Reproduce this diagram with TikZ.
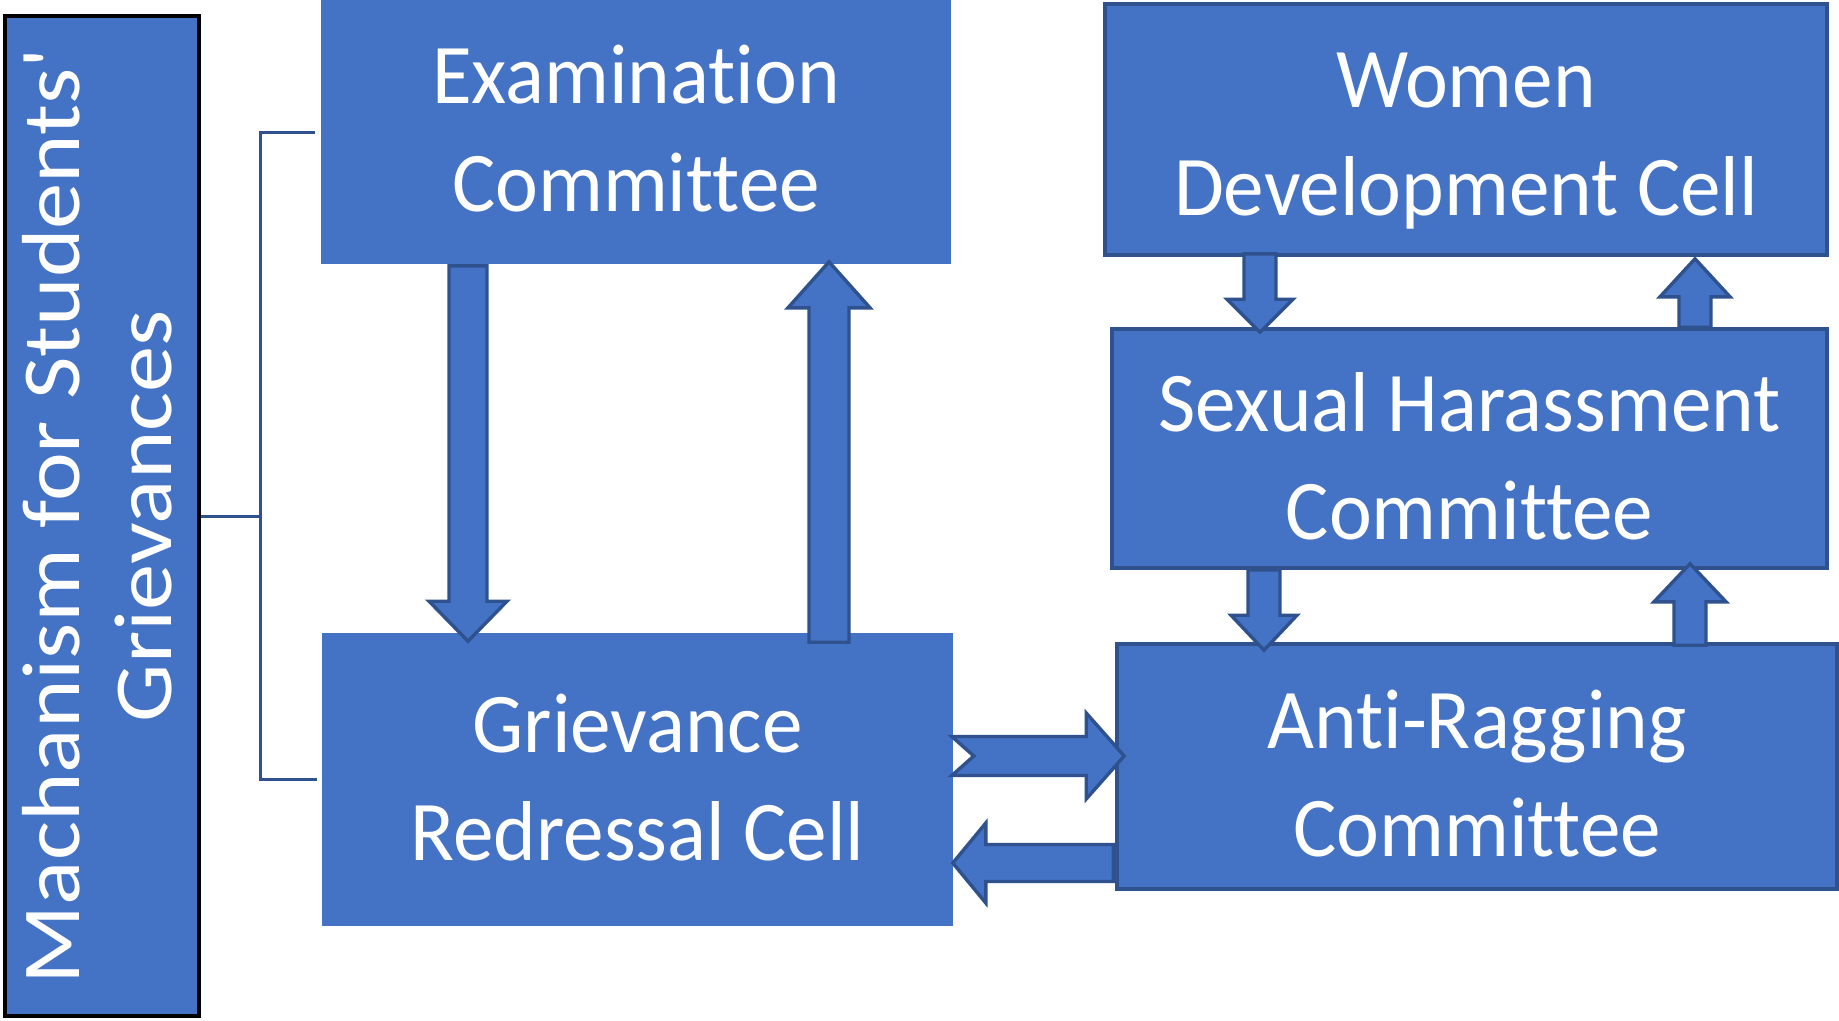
\documentclass[tikz,border=0pt]{standalone}
\usepackage{fontspec}
\setmainfont{Carlito}[Ligatures={NoCommon}]
\usetikzlibrary{calc}
\definecolor{boxblue}{HTML}{4472C4}
\definecolor{edgeblue}{HTML}{2F528F}

\makeatletter
% #1 start, #2 end (tip), #3 half shaft, #4 half head, #5 head length, #6 notch depth
\newcommand\blockarrow[6]{%
  \path #1 coordinate (ba-s);
  \path #2 coordinate (ba-e);
  \pgfpointdiff{\pgfpointanchor{ba-s}{center}}{\pgfpointanchor{ba-e}{center}}%
  \pgfmathveclen{\pgf@x}{\pgf@y}\let\ba@len\pgfmathresult
  \pgfmathanglebetweenpoints{\pgfpointanchor{ba-s}{center}}{\pgfpointanchor{ba-e}{center}}\let\ba@ang\pgfmathresult
  \begin{scope}[shift={(ba-s)}, rotate=\ba@ang]
    \draw[barrow] (0pt,-#3pt) -- ({\ba@len pt-#5pt},-#3pt) -- ({\ba@len pt-#5pt},-#4pt)
      -- (\ba@len pt,0pt) -- ({\ba@len pt-#5pt},#4pt) -- ({\ba@len pt-#5pt},#3pt)
      -- (0pt,#3pt) -- (#6pt,0pt) -- cycle;
  \end{scope}}
\makeatother

\newcommand\boxtext[2][0pt]{\raisebox{-#1}[\height][\depth]{\scalebox{0.955}[1]{\begin{tabular}{@{}c@{}}#2\end{tabular}}}}

\tikzset{
  box/.style={fill=boxblue, draw=edgeblue, line width=3.6pt, text=white,
    font=\fontsize{85}{108}\selectfont, inner sep=0pt},
  plainbox/.style={box, draw=none},
  barrow/.style={fill=boxblue, draw=edgeblue, line width=3.4pt, line join=miter},
  bracket/.style={draw=edgeblue, line width=3pt},
}

\begin{document}
\begin{tikzpicture}[x=1pt, y=-1pt]
\useasboundingbox (0,0) rectangle (1839,1020);
\fill[white] (0,0) rectangle (1839,1020);

% left title box
\node[box, draw=black, line width=3.6pt, minimum width=194pt, minimum height=1000pt] (mech) at (102,516) {};
\node[text=white, rotate=90, inner sep=0pt, font=\fontsize{92.5}{103}\selectfont] (mechtext)
  at ($(mech.center)+(5,0)$)
  {\scalebox{1}[0.89]{\begin{tabular}{@{}c@{}}Machanism for Students\textquotesingle\\Grievances\end{tabular}}};

% boxes
\node[plainbox, minimum width=630pt, minimum height=264pt] (exam) at (636,132) {\boxtext[4pt]{Examination\\Committee}};
\node[plainbox, minimum width=631pt, minimum height=293pt] (griev) at (637.5,779.5) {\boxtext[5pt]{Grievance\\Redressal Cell}};
\node[box, minimum width=722pt, minimum height=251pt] (women) at (1466,129.5) {\boxtext[10pt]{Women\\Development Cell}};
\node[box, minimum width=715pt, minimum height=239pt] (sexual) at (1469.5,448.5) {\boxtext[15pt]{Sexual Harassment\\Committee}};
\node[box, minimum width=720pt, minimum height=245pt] (anti) at (1477,766.5) {\boxtext[14pt]{Anti-Ragging\\Committee}};

% bracket
\draw[bracket] (mech.east) -- ++(60,0) coordinate (bj);
\draw[bracket] ($(exam.west)+(-4,0)$) -| (bj) |- ($(griev.west)+(-3,0)$);

% block arrows
\blockarrow{(exam.south -| 468,0)}{($(griev.north -| 468,0)+(0,10)$)}{19}{39}{40}{0}
\blockarrow{($(griev.north -| 829,0)+(0,11)$)}{($(exam.south -| 829,0)+(0,-4)$)}{20}{41}{46}{0}
\blockarrow{($(women.south -| 1260,0)+(0,-3)$)}{($(sexual.north -| 1260,0)+(0,5)$)}{16}{33}{33}{0}
\blockarrow{(sexual.north -| 1695,0)}{($(women.south -| 1695,0)+(0,2)$)}{16}{35}{38}{0}
\blockarrow{(sexual.south -| 1264,0)}{($(anti.north -| 1264,0)+(0,8)$)}{16}{33}{35}{0}
\blockarrow{($(anti.north -| 1690,0)+(0,3)$)}{($(sexual.south -| 1690,0)+(0,-6)$)}{16}{36}{38}{0}
\blockarrow{($(griev.east |- 0,756)+(-3,0)$)}{($(anti.west |- 0,756)+(9,0)$)}{19.5}{43}{38}{22}
\blockarrow{($(anti.west |- 0,863)+(-2,0)$)}{($(griev.east |- 0,863)+(-2,0)$)}{18.5}{40}{33}{0}
\end{tikzpicture}
\end{document}
